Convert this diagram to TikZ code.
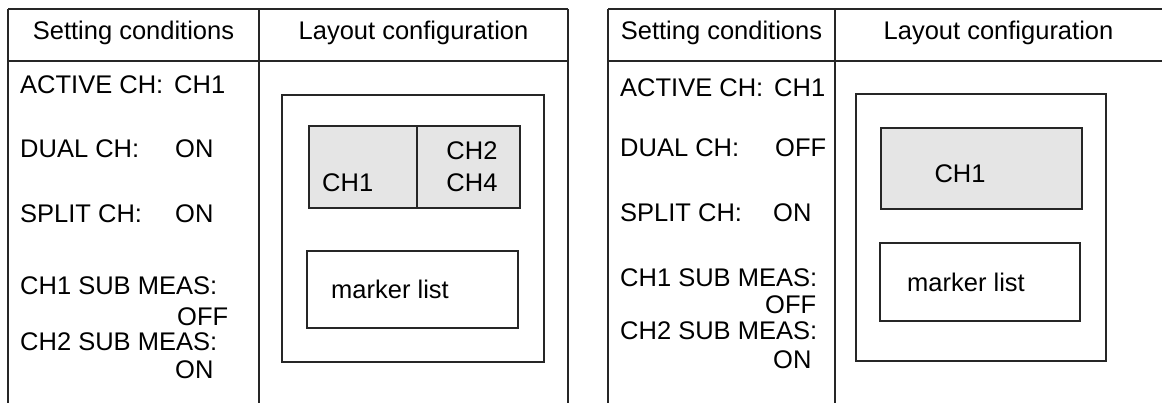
\documentclass[tikz,border=0pt]{standalone}
\usepackage{fontspec}
\setmainfont{Liberation Sans}
\usetikzlibrary{calc}
\tikzset{
    x=1pt, y=-1pt, font=\fontsize{25.5}{30}\selectfont,
    rej/.style={draw=black!85, line width=1.2pt},
    caja/.style={draw=black!85, line width=1.2pt},
    canal/.style={caja, fill=black!10},
    cab/.style={anchor=base, inner sep=0pt},
    cond/.style={anchor=base west, inner sep=0pt},
    txt/.style={anchor=base, inner sep=0pt},
}
% #1 prefijo, #2 borde izq., #3 divisor, #4 borde der.
\newcommand{\tabla}[4]{%
    \draw[rej] (#2,9) -- (#4,9);
    \draw[rej] (#2,61) -- (#4,61);
    \draw[rej] (#2,9) -- (#2,403);
    \draw[rej] (#3,9) -- (#3,403);
    \node[cab] (#1cond) at ({(#2+#3)/2},40) {Setting conditions};
    \node[cab] (#1lay) at ({(#3+#4)/2},40) {Layout configuration};
}

\begin{document}
\begin{tikzpicture}
    \useasboundingbox (0,0) rectangle (1162,403);

    % tabla izquierda
    \tabla{L}{8}{259}{568}
    \draw[rej] (568,9) -- (568,403);

    \node[cond] (actL) at (20,94) {ACTIVE CH:};
    \node[cond] (actLv) at (174,94) {CH1};
    \node[cond] (dualL) at (20,158) {DUAL CH:};
    \node[cond] (dualLv) at (175,158) {ON};
    \node[cond] (splitL) at (20,223) {SPLIT CH:};
    \node[cond] (splitLv) at (175,223) {ON};
    \node[cond] (subaL) at (20,295) {CH1 SUB MEAS:};
    \node[cond] (subaLv) at (177,326) {OFF};
    \node[cond] (subbL) at (20,350) {CH2 SUB MEAS:};
    \node[cond] (subbLv) at (175,378) {ON};

    \draw[caja] (282,95) rectangle (544,362);
    \draw[canal] (309,126) rectangle (520,208);
    \draw[caja] (417,126) -- (417,208);
    \node[cond] (ch1L) at (322,192) {CH1};
    \node[txt] (ch2L) at (472,160) {CH2};
    \node[txt] (ch4L) at (472,192) {CH4};
    \draw[caja] (307,251) rectangle (518,328);
    \node[txt] (mkL) at (390,299) {marker list};

    % tabla derecha
    \tabla{R}{608}{835}{1162}

    \node[cond] (actR) at (620,97) {ACTIVE CH:};
    \node[cond] (actRv) at (774,97) {CH1};
    \node[cond] (dualR) at (620,157) {DUAL CH:};
    \node[cond] (dualRv) at (775,157) {OFF};
    \node[cond] (splitR) at (620,222) {SPLIT CH:};
    \node[cond] (splitRv) at (773,222) {ON};
    \node[cond] (subaR) at (620,287) {CH1 SUB MEAS:};
    \node[cond] (subaRv) at (765,314) {OFF};
    \node[cond] (subbR) at (620,339) {CH2 SUB MEAS:};
    \node[cond] (subbRv) at (773,368) {ON};

    \draw[caja] (856,94) rectangle (1106,361);
    \draw[canal] (881,128) rectangle (1082,209);
    \node[txt] (ch1R) at (960,183) {CH1};
    \draw[caja] (880,243) rectangle (1080,321);
    \node[txt] (mkR) at (966,292) {marker list};
\end{tikzpicture}
\end{document}
